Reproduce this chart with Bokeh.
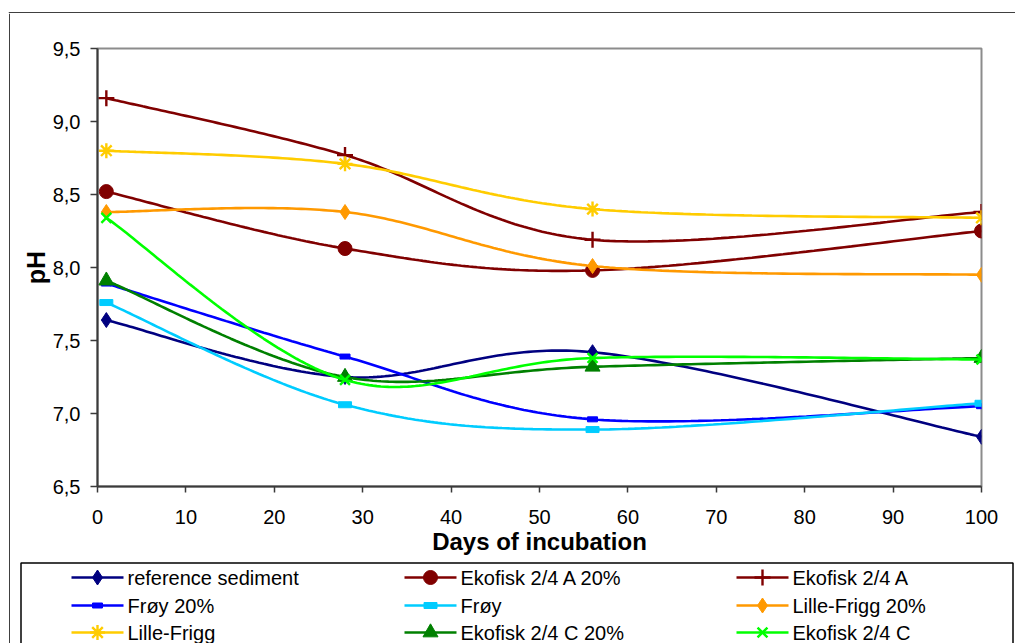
import numpy as np
from bokeh.plotting import figure
from bokeh.layouts import column, row
from bokeh.models import Range1d, FixedTicker, ColumnDataSource
from bokeh.core.properties import value
from bokeh.embed import file_html
from bokeh.resources import INLINE

# Sampling days
days = [1, 28, 56, 100]

# pH readings per sediment treatment
reference_sediment = [7.64, 7.25, 7.42, 6.84]
ekofisk_a_20 = [8.52, 8.13, 7.98, 8.25]
ekofisk_a = [9.16, 8.77, 8.19, 8.38]
froy_20 = [7.89, 7.39, 6.96, 7.05]
froy = [7.76, 7.06, 6.89, 7.07]
lille_frigg_20 = [8.38, 8.38, 8.01, 7.95]
lille_frigg = [8.80, 8.71, 8.40, 8.34]
ekofisk_c_20 = [7.91, 7.25, 7.32, 7.38]
ekofisk_c = [8.34, 7.23, 7.38, 7.37]

series_names = ["reference sediment", "Ekofisk 2/4 A 20%", "Ekofisk 2/4 A",
                "Frøy 20%", "Frøy", "Lille-Frigg 20%",
                "Lille-Frigg", "Ekofisk 2/4 C 20%", "Ekofisk 2/4 C"]
series_values = [reference_sediment, ekofisk_a_20, ekofisk_a,
                 froy_20, froy, lille_frigg_20,
                 lille_frigg, ekofisk_c_20, ekofisk_c]

x_ticks = [0, 10, 20, 30, 40, 50, 60, 70, 80, 90, 100]
y_ticks = [6.5, 7.0, 7.5, 8.0, 8.5, 9.0, 9.5]
y_tick_labels = ["6,5", "7,0", "7,5", "8,0", "8,5", "9,0", "9,5"]

# styling per series: colour, marker kind, marker size
styles = [
    ("#000080", "diamond", 15),
    ("#800000", "circle", 14),
    ("#800000", "cross", 16),
    ("#0000FF", "rect", (10, 5)),
    ("#00CCFF", "rect", (13, 6)),
    ("#FF9900", "diamond", 15),
    ("#FFCC00", "asterisk", 15),
    ("#008000", "triangle", 15),
    ("#00FF00", "x", 14),
]

FONT = "Liberation Sans"


def smooth_curve(xs, ys, n=60):
    """Cubic Bezier pieces through the points (spreadsheet style smoothing)."""
    pts = np.column_stack([np.asarray(xs, float), np.asarray(ys, float)])
    m = len(pts)
    out = [pts[0]]
    t = np.linspace(0.0, 1.0, n)[1:, None]
    for i in range(m - 1):
        p0 = pts[i - 1] if i > 0 else pts[i]
        p1 = pts[i]
        p2 = pts[i + 1]
        p3 = pts[i + 2] if i + 2 < m else pts[i + 1]
        c1 = p1 + (p2 - p0) / 6.0
        c2 = p2 - (p3 - p1) / 6.0
        seg = ((1 - t) ** 3) * p1 + 3 * ((1 - t) ** 2) * t * c1 \
            + 3 * (1 - t) * (t ** 2) * c2 + (t ** 3) * p2
        out.extend(seg)
    out = np.array(out)
    return out[:, 0], out[:, 1]


def draw_marker(fig, xs, ys, color, marker, size):
    src = ColumnDataSource(dict(x=xs, y=ys))
    if marker == "rect":
        fig.rect("x", "y", width=size[0], height=size[1],
                 width_units="screen", height_units="screen",
                 fill_color=color, line_color=color, source=src)
    elif marker in ("cross", "x", "asterisk"):
        fig.scatter("x", "y", marker=marker, size=size, line_color=color,
                    line_width=2.4, source=src)
    else:
        fig.scatter("x", "y", marker=marker, size=size, fill_color=color,
                    line_color=color, source=src)


def blank(fig):
    fig.outline_line_color = None
    fig.grid.visible = False
    fig.background_fill_color = "white"
    fig.border_fill_color = "white"
    fig.frame_align = False


# page geometry (pixels)
W, H = 1015, 643
BOX_L, BOX_T = 9, 12          # outer chart frame
STRIP_H, STRIP_W = 13, 10     # top and left strips carrying that frame
LEG_TOP = 561                 # where the legend panel starts
PLOT_L, PLOT_R, PLOT_T, PLOT_B = 97, 981, 48, 486

# top strip with the frame's upper edge
top = figure(width=W, height=STRIP_H, output_backend="svg", toolbar_location=None,
             x_range=Range1d(0, W), y_range=Range1d(STRIP_H, 0),
             x_axis_location=None, y_axis_location=None, min_border=0)
blank(top)
top.line([BOX_L - 0.75, W], [BOX_T + 0.5, BOX_T + 0.5], line_color="black", line_width=1.5)

# left strip with the frame's left edge
side = figure(width=STRIP_W, height=H - STRIP_H, output_backend="svg",
              toolbar_location=None, x_range=Range1d(0, STRIP_W),
              y_range=Range1d(H, STRIP_H), x_axis_location=None,
              y_axis_location=None, min_border=0)
blank(side)
side.line([BOX_L + 0.5, BOX_L + 0.5], [STRIP_H, H], line_color="black", line_width=1.5)

# main chart
cw, ch = W - STRIP_W, LEG_TOP - STRIP_H
p = figure(width=cw, height=ch, output_backend="svg", toolbar_location=None,
           x_range=Range1d(0, 100), y_range=Range1d(6.5, 9.5),
           min_border_left=PLOT_L - STRIP_W, min_border_right=W - PLOT_R,
           min_border_top=PLOT_T - STRIP_H, min_border_bottom=LEG_TOP - PLOT_B)
blank(p)
p.outline_line_color = "#8c8c8c"
p.outline_line_width = 2

p.xaxis.ticker = FixedTicker(ticks=x_ticks)
p.yaxis.ticker = FixedTicker(ticks=y_ticks)
p.yaxis.major_label_overrides = {v: s for v, s in zip(y_ticks, y_tick_labels)}
for ax in (p.xaxis, p.yaxis):
    ax.axis_line_color = "#3a3a3a"
    ax.axis_line_width = 2
    ax.major_tick_line_color = "#3a3a3a"
    ax.major_tick_line_width = 1.5
    ax.major_tick_in = 0
    ax.minor_tick_line_color = None
    ax.major_label_text_font = FONT
    ax.major_label_text_font_size = "20px"
    ax.major_label_text_color = "black"
    ax.axis_label_text_font = FONT
    ax.axis_label_text_font_style = "bold"
    ax.axis_label_text_color = "black"
p.xaxis.axis_label_text_font_size = "24px"
p.yaxis.axis_label_text_font_size = "25px"
p.xaxis.major_tick_out = 6
p.yaxis.major_tick_out = 7
p.xaxis.major_label_standoff = 17
p.yaxis.major_label_standoff = 10
p.xaxis.axis_label = "Days of incubation"
p.yaxis.axis_label = "pH"
p.xaxis.axis_label_standoff = 1
p.yaxis.axis_label_standoff = 0

for vals, (color, marker, size) in zip(series_values, styles):
    sx, sy = smooth_curve(days, vals)
    p.line(sx, sy, line_color=color, line_width=2.6)
    draw_marker(p, days, vals, color, marker, size)

# legend panel, drawn in pixel coordinates
leg = figure(width=cw, height=H - LEG_TOP, output_backend="svg",
             toolbar_location=None, x_range=Range1d(STRIP_W, W),
             y_range=Range1d(H, LEG_TOP), x_axis_location=None,
             y_axis_location=None, min_border=0)
blank(leg)
box_l, box_r, box_t = 20.5, 1012.5, 562.5
leg.line([box_l, box_l, box_r, box_r], [H + 5, box_t, box_t, H + 5],
         line_color="black", line_width=1.5)

ncols = 3
col_text_x = [127, 460, 792]
row_y = [577, 605, 632]
for i, (name, (color, marker, size)) in enumerate(zip(series_names, styles)):
    r, c = divmod(i, ncols)
    tx, ty = col_text_x[c], row_y[r]
    x0, x1 = tx - 56, tx - 4
    leg.line([x0, x1], [ty, ty], line_color=color, line_width=2.6)
    draw_marker(leg, [(x0 + x1) / 2], [ty], color, marker, size)
    leg.text([tx], [ty], text=[name], text_font=value(FONT),
             text_font_size="20px", text_baseline="middle", text_align="left",
             text_color="black")

layout = column(top, row(side, column(p, leg)))
open("out.html", "w").write(file_html(layout, INLINE))
